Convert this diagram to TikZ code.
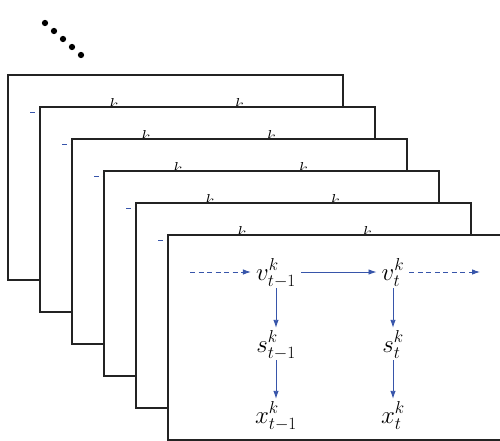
\documentclass[tikz,border=0pt]{standalone}
\usetikzlibrary{arrows.meta}
\definecolor{arrowblue}{RGB}{55,85,170}
\definecolor{framegray}{RGB}{35,35,35}
\tikzset{
  frame/.style={draw=framegray, line width=2.4pt, fill=white, rectangle,
    minimum width=335pt, minimum height=205pt, inner sep=0pt, outer sep=0pt, anchor=north west},
  var/.style={font=\fontsize{23}{27}\selectfont, inner sep=5pt, text height=19pt, text depth=3pt, anchor=base},
  link/.style={draw=arrowblue, line width=0.9pt, -{Latex[length=8pt,width=5.5pt]}},
  dlink/.style={link, dash pattern=on 5pt off 3.5pt},
  dotmark/.style={fill=black, circle, inner sep=0pt, minimum size=6.3pt},
}
\begin{document}
\begin{tikzpicture}[x=1pt,y=-1pt]
\clip (0,0) rectangle (500,441);
\fill[white] (0,0) rectangle (500,441);
\foreach \p/\xx/\yy in {1/45/23, 2/54/31, 3/63/39, 4/72/47, 5/81/55}
  \node[dotmark] (dot\p) at (\xx,\yy) {};
\foreach \i in {0,...,5}{
  \begin{scope}[shift={(8+32*\i,75+32*\i)}]
    \node[frame] (frame\i) at (0,0) {};
    \coordinate (in\i) at (22,37);
    \coordinate (out\i) at (312,37);
    \node[var] (va\i) at (108,45) {$v_{t-1}^k$};
    \node[var] (vb\i) at (225,45) {$v_t^k$};
    \node[var] (sa\i) at (108,117) {$s_{t-1}^k$};
    \node[var] (sb\i) at (225,117) {$s_t^k$};
    \node[var] (xa\i) at (108,188) {$x_{t-1}^k$};
    \node[var] (xb\i) at (225,188) {$x_t^k$};
    \draw[dlink] (in\i) -- (va\i);
    \draw[link] (va\i) -- (vb\i);
    \draw[dlink] (vb\i) -- (out\i);
    \draw[link] (va\i) -- (sa\i);
    \draw[link] (sa\i) -- (xa\i);
    \draw[link] (vb\i) -- (sb\i);
    \draw[link] (sb\i) -- (xb\i);
  \end{scope}
}
\end{tikzpicture}
\end{document}
